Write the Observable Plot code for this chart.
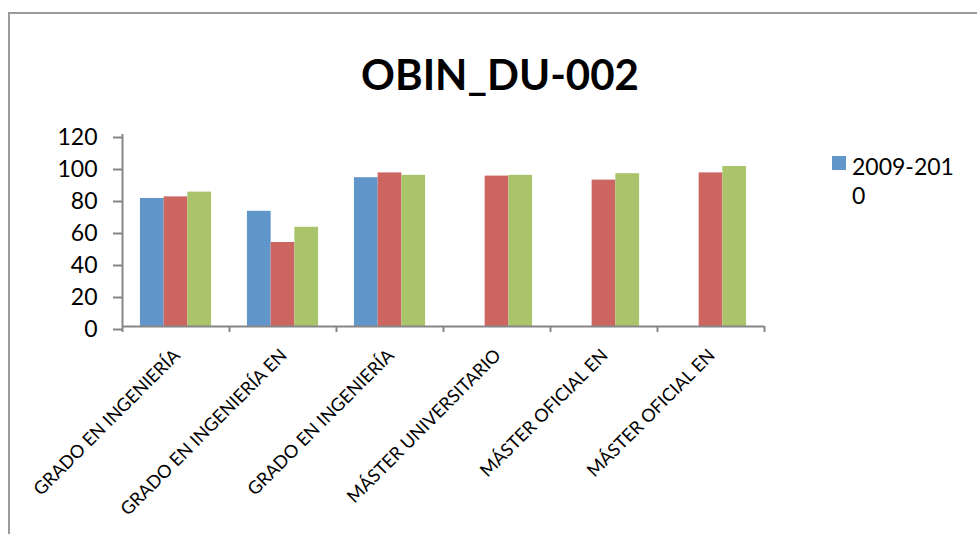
<!DOCTYPE html>
<html>
<head>
<meta charset="utf-8">
<script src="https://cdn.jsdelivr.net/npm/d3@7"></script>
<script src="https://cdn.jsdelivr.net/npm/@observablehq/plot@0.6"></script>
<style>
  html, body { margin: 0; padding: 0; background: #fff; }
  #wrap { position: relative; width: 977px; height: 534px; overflow: hidden; font-family: Lato, "Open Sans", sans-serif; }
  #frame { position: absolute; left: 8px; top: 12px; width: 980px; height: 540px; border-top: 2px solid #9a9a9a; border-left: 2px solid #9a9a9a; box-sizing: border-box; }
  #title { position: absolute; left: 0; width: 1000px; top: 53px; text-align: center; font-weight: 700; font-size: 42px; line-height: 42px; color: #000; }
  #legend { position: absolute; left: 832px; top: 152px; font-size: 23px; line-height: 29px; color: #000; }
  .lg-item { display: flex; align-items: flex-start; }
  .lg-sw { width: 14px; height: 14px; margin-top: 4px; margin-right: 6px; flex: none; }
  .lg-tx { width: 104px; word-break: break-all; }
  #chart { position: absolute; left: 0; top: 0; }
</style>
</head>
<body>
<div id="wrap">
  <div id="frame"></div>
  <div id="chart"></div>
  <div id="title"></div>
  <div id="legend"></div>
</div>
<script>
const title = "OBIN_DU-002";
const categories = [
  "GRADO EN INGENIERÍA",
  "GRADO EN INGENIERÍA EN",
  "GRADO EN INGENIERÍA",
  "MÁSTER UNIVERSITARIO",
  "MÁSTER OFICIAL EN",
  "MÁSTER OFICIAL EN"
];
const series = ["2009-2010", "2010-2011", "2011-2012"];
const values2009 = [80, 72, 93, null, null, null];
const values2010 = [81, 52.5, 96, 94, 91.5, 96];
const values2011 = [84, 62, 94.5, 94.5, 95.5, 100];
const yTicks = [0, 20, 40, 60, 80, 100, 120];
const colors = ["#6096CA", "#CD6661", "#AAC46B"];
const legendShown = [series[0]];

const W = 977, H = 534;
const ML = 122, MR = 213, MT = 134, MB = 208;
const groupFrac = 0.665;                 // share of a category occupied by the group
const barFrac = groupFrac / series.length;
const offFrac = (1 - groupFrac) / 2;
const axisGray = "#868686";

const seriesValues = [values2009, values2010, values2011];
const rows = [];
categories.forEach((c, i) => {
  series.forEach((s, k) => {
    const v = seriesValues[k][i];
    if (v != null) rows.push({i, category: c, series: s, value: v,
      x1: i + offFrac + k * barFrac, x2: i + offFrac + (k + 1) * barFrac});
  });
});
const boundaries = d3.range(categories.length + 1);
const centers = categories.map((c, i) => ({i: i + 0.5, label: c}));

const plot = Plot.plot({
  width: W, height: H,
  marginLeft: ML, marginRight: MR, marginTop: MT, marginBottom: MB,
  style: {fontFamily: "Lato, 'Open Sans', sans-serif", background: "transparent", color: "#000"},
  x: {domain: [0, categories.length], axis: null, label: null},
  y: {domain: [0, 120], axis: null, label: null},
  color: {domain: series, range: colors},
  marks: [
    Plot.rect(rows, {x1: "x1", x2: "x2", y1: 0, y2: "value", fill: "series"}),
    Plot.ruleY([0], {stroke: axisGray, strokeWidth: 2}),
    Plot.ruleX([0], {stroke: axisGray, strokeWidth: 2}),
    Plot.axisY({ticks: yTicks, tickSize: 9, tickPadding: 16, stroke: axisGray, strokeWidth: 2,
      fontSize: 23, fill: "#000", dy: 3, label: null, tickFormat: d => String(d)}),
    Plot.axisX({ticks: boundaries, tickSize: 6, tickFormat: () => "", label: null, stroke: axisGray, strokeWidth: 2}),
    Plot.text(centers, {x: "i", text: "label", frameAnchor: "bottom", rotate: -45,
      textAnchor: "end", lineAnchor: "top", dx: -4, dy: 21, fontSize: 18, fill: "#000"})
  ]
});
document.getElementById("chart").appendChild(plot);

document.getElementById("title").textContent = title;
const lg = document.getElementById("legend");
legendShown.forEach(name => {
  const k = series.indexOf(name);
  const item = document.createElement("div");
  item.className = "lg-item";
  const sw = document.createElement("div");
  sw.className = "lg-sw";
  sw.style.background = colors[k];
  const tx = document.createElement("div");
  tx.className = "lg-tx";
  tx.textContent = name;
  item.appendChild(sw); item.appendChild(tx);
  lg.appendChild(item);
});
</script>
</body>
</html>
